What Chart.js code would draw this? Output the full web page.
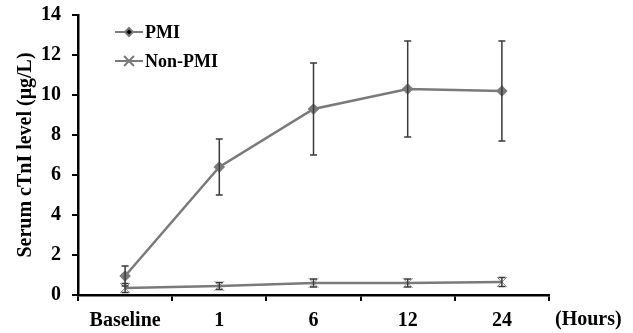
<!DOCTYPE html>
<html>
<head>
<meta charset="utf-8">
<script src="https://cdn.jsdelivr.net/npm/chart.js@4/dist/chart.umd.min.js"></script>
<style>
  html, body { margin: 0; padding: 0; background: #fff; }
  #wrap { width: 633px; height: 333px; }
</style>
</head>
<body>
<div id="wrap"><canvas id="cTnIChart"></canvas></div>
<script>
// values
const timepoints = ['Baseline', '1', '6', '12', '24'];
const pmiMean = [0.95, 6.4, 9.3, 10.3, 10.2];
const pmiErr = [0.5, 1.4, 2.3, 2.4, 2.5];
const nonPmiMean = [0.35, 0.45, 0.6, 0.6, 0.65];
const nonPmiErr = [0.22, 0.18, 0.2, 0.2, 0.22];
const yTicks = [0, 2, 4, 6, 8, 10, 12, 14];

const serif = "'Liberation Serif', 'Times New Roman', serif";
const lineGray = '#7a7a7a';

// error bars, drawn through the y scale
const errorBars = {
    id: 'errorBars',
    afterDatasetsDraw(chart) {
        const ctx = chart.ctx;
        const y = chart.scales.y;
        chart.data.datasets.forEach((ds, di) => {
            const meta = chart.getDatasetMeta(di);
            ds.errors.forEach((e, i) => {
                const pt = meta.data[i];
                const top = y.getPixelForValue(ds.data[i] + e);
                const bot = y.getPixelForValue(Math.max(0, ds.data[i] - e));
                ctx.save();
                ctx.strokeStyle = '#3a3a3a';
                ctx.lineWidth = 1.5;
                ctx.beginPath();
                ctx.moveTo(pt.x, top); ctx.lineTo(pt.x, bot);
                ctx.moveTo(pt.x - 3.5, top); ctx.lineTo(pt.x + 3.5, top);
                ctx.moveTo(pt.x - 3.5, bot); ctx.lineTo(pt.x + 3.5, bot);
                ctx.stroke();
                ctx.restore();
            });
        });
    }
};

// legend inside the plot, plus the "(Hours)" unit label
const extras = {
    id: 'extras',
    afterDraw(chart) {
        const ctx = chart.ctx;
        ctx.save();
        chart.data.datasets.forEach((ds, i) => {
            const ly = 32 + i * 29;
            ctx.strokeStyle = lineGray;
            ctx.lineWidth = 2;
            ctx.beginPath();
            ctx.moveTo(115, ly); ctx.lineTo(143, ly);
            ctx.stroke();
            Chart.helpers.drawPoint(ctx, {
                pointStyle: ds.pointStyle,
                radius: ds.pointRadius,
                borderWidth: ds.pointBorderWidth || 1
            }, 129, ly);
            ctx.fillStyle = '#000';
            ctx.font = 'bold 18px ' + serif;
            ctx.textBaseline = 'middle';
            ctx.fillText(ds.label, 145, ly + 1);
        });
        ctx.font = 'bold 20px ' + serif;
        ctx.textBaseline = 'middle';
        ctx.fillText('(Hours)', 555, 320);
        ctx.restore();
    }
};

new Chart(document.getElementById('cTnIChart'), {
    type: 'line',
    data: {
        labels: timepoints,
        datasets: [
            {
                label: 'PMI',
                data: pmiMean,
                errors: pmiErr,
                borderColor: lineGray,
                backgroundColor: lineGray,
                borderWidth: 2.5,
                pointStyle: 'rectRot',
                pointRadius: 4,
                pointBackgroundColor: lineGray,
                pointBorderColor: lineGray,
                tension: 0
            },
            {
                label: 'Non-PMI',
                data: nonPmiMean,
                errors: nonPmiErr,
                borderColor: lineGray,
                backgroundColor: lineGray,
                borderWidth: 2.5,
                pointStyle: 'crossRot',
                pointRadius: 7,
                pointBorderWidth: 1,
                pointBorderColor: '#8a8a8a',
                tension: 0
            }
        ]
    },
    options: {
        responsive: true,
        maintainAspectRatio: false,
        animation: false,
        layout: { padding: { top: 15, right: 84, left: 0, bottom: 0 } },
        plugins: { legend: { display: false }, tooltip: { enabled: false } },
        scales: {
            x: {
                offset: true,
                grid: { offset: true, drawOnChartArea: false, drawTicks: true, tickLength: 6, color: '#000', lineWidth: 2 },
                border: { color: '#000', width: 2.5 },
                ticks: { color: '#000', font: { family: serif, size: 20, weight: 'bold' }, padding: 8, maxRotation: 0 },
                afterFit(s) { s.height = 38; s.paddingLeft = 0; s.paddingRight = 0; }
            },
            y: {
                min: 0,
                max: 14,
                afterBuildTicks(s) { s.ticks = yTicks.map(v => ({ value: v })); },
                grid: { drawOnChartArea: false, drawTicks: true, tickLength: 6, color: '#000', lineWidth: 2 },
                border: { color: '#000', width: 2.5 },
                ticks: { color: '#000', font: { family: serif, size: 20, weight: 'bold' }, padding: 11 },
                title: {
                    display: true,
                    text: 'Serum cTnI level (\u03bcg/L)',
                    color: '#000',
                    font: { family: serif, size: 20, weight: 'bold' },
                    padding: { top: 14, bottom: 0 }
                },
                afterFit(s) { s.width = 78; s.paddingTop = 0; s.paddingBottom = 0; }
            }
        }
    },
    plugins: [errorBars, extras]
});
</script>
</body>
</html>
